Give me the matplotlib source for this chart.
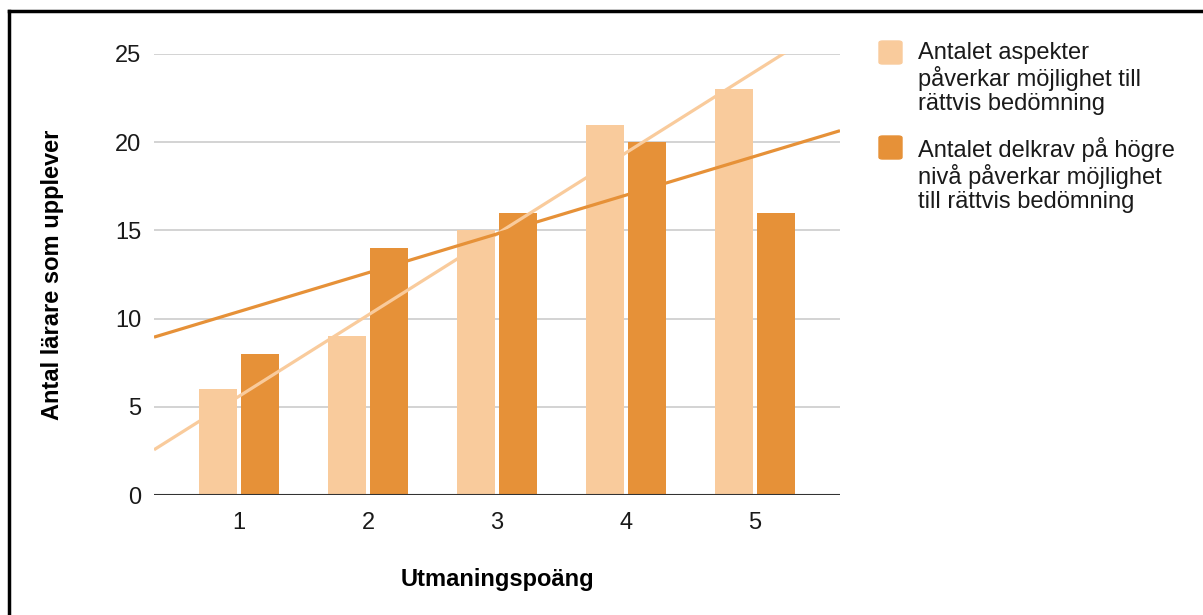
import matplotlib.pyplot as plt
import numpy as np
from matplotlib.patches import FancyBboxPatch

plt.rcParams['font.family'] = ['Liberation Sans', 'DejaVu Sans']

# poäng 1-5 och antal lärare per påstående
poang = [1, 2, 3, 4, 5]
aspekter = [6, 9, 15, 21, 23]
delkrav = [8, 14, 16, 20, 16]
serie_namn = ['Antalet aspekter\npåverkar möjlighet till\nrättvis bedömning',
              'Antalet delkrav på högre\nnivå påverkar möjlighet\ntill rättvis bedömning']
farger = ['#F9CB9C', '#E69138']

fig = plt.figure(figsize=(12.03, 6.15), dpi=100)
ax = fig.add_axes([154/1203, 120/615, 686/1203, 441/615])

x = np.array(poang, dtype=float)
w = 0.295
ax.bar(x - w/2 - 0.016, aspekter, width=w, color=farger[0], zorder=2)
ax.bar(x + w/2 + 0.016, delkrav, width=w, color=farger[1], zorder=2)

# linjära trendlinjer över hela x-området
xmin, xmax = 0.34, 5.66
xs = np.array([xmin, xmax])
for y, c in zip([aspekter, delkrav], farger):
    k, m = np.polyfit(x, y, 1)
    ax.plot(xs, k*xs + m, color=c, lw=2.3, zorder=3, solid_capstyle='butt')

ax.set_xlim(xmin, xmax)
ax.set_ylim(0, 25)
ax.set_xticks(poang)
ax.set_yticks([0, 5, 10, 15, 20, 25])
ax.tick_params(length=0, labelsize=17, colors='#1a1a1a')
ax.tick_params(axis='y', pad=9)
ax.tick_params(axis='x', pad=12)
ax.grid(axis='y', color='#cccccc', lw=1.2, zorder=0)
for s in ax.spines.values():
    s.set_visible(False)
ax.axhline(0, color='#333333', lw=1.5, zorder=4)

ax.set_xlabel('Utmaningspoäng', fontsize=17, fontweight='bold', labelpad=25)
ax.set_ylabel('Antal lärare som upplever', fontsize=17, fontweight='bold', labelpad=37)

# förklaring till höger
for i, (namn, c) in enumerate(zip(serie_namn, farger)):
    ytop = 41 + i*95
    fig.patches.append(FancyBboxPatch((879/1203, 1 - (ytop + 23)/615), 23/1203, 23/615,
                                      boxstyle='round,pad=0,rounding_size=0.003',
                                      transform=fig.transFigure, color=c, figure=fig))
    fig.text(918/1203, 1 - (ytop + 1)/615, namn, fontsize=17, va='top', ha='left',
             color='#1a1a1a', linespacing=1.1)

# ram runt diagrammet
fig.add_artist(plt.Line2D([9/1203, 9/1203], [0, 1 - 11/615], color='black', lw=2.5,
                          transform=fig.transFigure))
fig.add_artist(plt.Line2D([9/1203, 1], [1 - 11/615, 1 - 11/615], color='black', lw=2.5,
                          transform=fig.transFigure))

fig.savefig('out.png', dpi=100)
